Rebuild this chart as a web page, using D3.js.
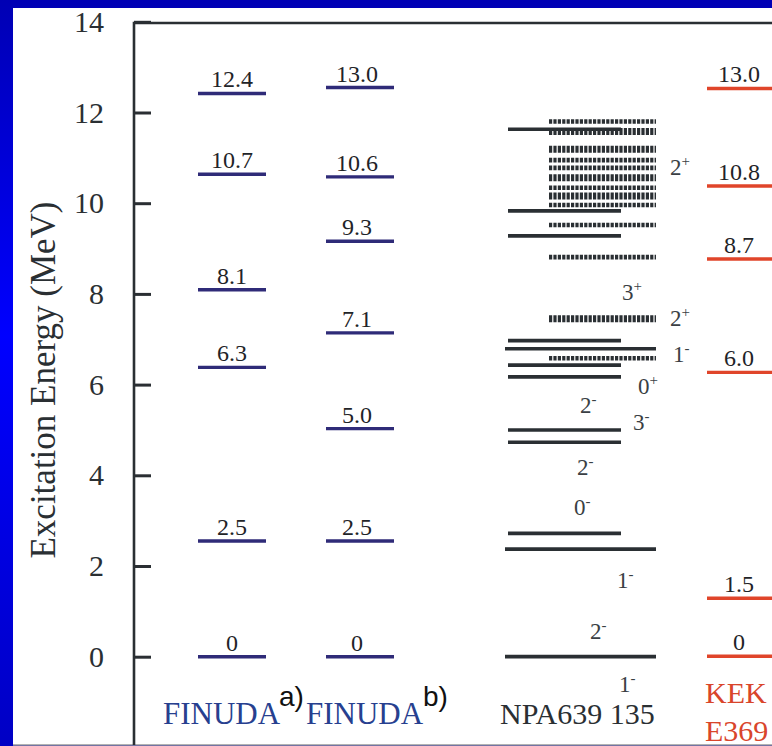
<!DOCTYPE html>
<head>
    <meta charset="utf-8">
    <style>
        body { margin: 0; background: #0000ff; }
        svg { display: block; }
    </style>
    <script src="https://d3js.org/d3.v7.min.js"></script>
</head>
<body>
    <div id="chart"></div>
    <script>

        // y axis ticks (MeV)
        var yTicks = [0, 2, 4, 6, 8, 10, 12, 14];

        // FINUDA a) levels: where each bar sits, and the number written on it
        var finudaAEnergy = [0, 2.55, 6.38, 8.09, 10.64, 12.42];
        var finudaALabels = ["0", "2.5", "6.3", "8.1", "10.7", "12.4"];

        // FINUDA b)
        var finudaBEnergy = [0, 2.55, 5.03, 7.14, 9.16, 10.58, 12.55];
        var finudaBLabels = ["0", "2.5", "5.0", "7.1", "9.3", "10.6", "13.0"];

        // KEK E369
        var kekEnergy = [0.01, 1.29, 6.27, 8.77, 10.38, 12.53];
        var kekLabels = ["0", "1.5", "6.0", "8.7", "10.8", "13.0"];

        // NPA639 135 levels; kind: s = short solid, l = long solid, d = dashed, D = heavy dashed
        var npaEnergy = [11.63, 9.83, 9.28, 6.97, 6.43, 6.17, 5.00, 4.73, 2.72,
                         6.79, 2.37, 0,
                         11.80, 10.95, 10.78, 10.34, 9.96, 9.52, 8.81, 6.58,
                         11.58, 11.19, 10.56, 10.16, 7.45];
        var npaKind = ["s", "s", "s", "s", "s", "s", "s", "s", "s",
                       "l", "l", "l",
                       "d", "d", "d", "d", "d", "d", "d", "d",
                       "D", "D", "D", "D", "D"];

        // spin-parity labels of the NPA column
        var npaSpin   = ["2", "3", "2", "1", "0", "2", "3", "2", "0", "1", "2", "1"];
        var npaParity = ["+", "+", "+", "-", "+", "-", "-", "-", "-", "-", "-", "-"];
        var npaSpinEnergy = [10.62, 7.86, 7.29, 6.50, 5.79, 5.38, 5.00, 4.01, 3.12, 1.51, 0.38, -0.78];

        // layout
        var w = 772,
            h = 746;
        var axisX = 134,
            frameTop = 23;
        var npaSpinX = [670, 622, 670, 673, 638, 580, 633, 577, 574, 617, 590, 619];

        var serif = "'Liberation Serif', 'Times New Roman', Times, serif";
        var sans = "'Liberation Sans', Arial, sans-serif";

        var svg = d3.select("#chart")
                    .append("svg")
                    .attr("width", w)
                    .attr("height", h);

        // slide background
        var grad = svg.append("defs")
                      .append("linearGradient")
                      .attr("id", "bg")
                      .attr("x1", 0).attr("y1", 0)
                      .attr("x2", 0).attr("y2", 1);
        grad.append("stop").attr("offset", "0%").attr("stop-color", "#0000b4");
        grad.append("stop").attr("offset", "45%").attr("stop-color", "#0000ff");
        grad.append("stop").attr("offset", "100%").attr("stop-color", "#0000c4");

        svg.append("rect")
           .attr("width", w)
           .attr("height", h)
           .attr("fill", "url(#bg)");

        svg.append("rect")
           .attr("x", 13)
           .attr("y", 8)
           .attr("width", w - 13)
           .attr("height", 737)
           .attr("fill", "white");

        svg.append("line")
           .attr("x1", 13).attr("x2", w)
           .attr("y1", 745).attr("y2", 745)
           .attr("stroke", "#9a9a9a")
           .attr("stroke-width", 1.5);

        var y = d3.scaleLinear()
                  .domain([0, 14])
                  .range([656.7, 21.8]);

        // frame
        svg.append("path")
           .attr("d", "M" + axisX + ",745V" + frameTop + "H" + w)
           .attr("fill", "none")
           .attr("stroke", "#2a2f33")
           .attr("stroke-width", 2.6);

        var axis = svg.append("g")
                      .attr("transform", "translate(" + axisX + ",0)")
                      .call(d3.axisLeft(y)
                              .tickValues(yTicks)
                              .tickSize(-17)
                              .tickPadding(30)
                              .tickFormat(d3.format("d")));

        axis.attr("font-family", null).attr("font-size", null);
        axis.select(".domain").remove();
        axis.selectAll(".tick line")
            .attr("stroke", "#2a2f33")
            .attr("stroke-width", 3);
        axis.selectAll(".tick text")
            .attr("fill", "#2a2f33")
            .style("font-family", serif)
            .style("font-size", "30px");

        svg.append("text")
           .attr("transform", "translate(55,380) rotate(-90)")
           .attr("text-anchor", "middle")
           .attr("fill", "#2a2f33")
           .style("font-family", serif)
           .style("font-size", "35px")
           .text("Excitation Energy (MeV)");

        // one experimental column: bars with their values written above
        function drawColumn(energy, labels, x1, x2, cx, color) {
            var g = svg.append("g");
            g.selectAll("line")
             .data(energy)
             .enter()
             .append("line")
             .attr("x1", x1)
             .attr("x2", x2)
             .attr("y1", function(d) { return y(d); })
             .attr("y2", function(d) { return y(d); })
             .attr("stroke", color)
             .attr("stroke-width", 3.4);

            g.selectAll("text")
             .data(energy)
             .enter()
             .append("text")
             .attr("x", cx)
             .attr("y", function(d) { return y(d) - 6; })
             .attr("text-anchor", "middle")
             .attr("fill", "#1f2428")
             .style("font-family", serif)
             .style("font-size", "24px")
             .text(function(d, i) { return labels[i]; });
        }

        drawColumn(finudaAEnergy, finudaALabels, 198, 266, 232, "#2f2b78");
        drawColumn(finudaBEnergy, finudaBLabels, 326, 394, 357, "#2f2b78");
        drawColumn(kekEnergy, kekLabels, 707, 790, 739, "#e0452a");

        // NPA column
        var npaX = {
            s: [508, 621],
            l: [505, 656],
            d: [549, 656],
            D: [549, 656]
        };
        var npaWidth = { s: 3.6, l: 3.7, d: 4.6, D: 7 };

        svg.append("g")
           .selectAll("line")
           .data(npaEnergy)
           .enter()
           .append("line")
           .attr("x1", function(d, i) { return npaX[npaKind[i]][0]; })
           .attr("x2", function(d, i) { return npaX[npaKind[i]][1]; })
           .attr("y1", function(d) { return y(d); })
           .attr("y2", function(d) { return y(d); })
           .attr("stroke", "#2a2f33")
           .attr("stroke-width", function(d, i) { return npaWidth[npaKind[i]]; })
           .attr("stroke-dasharray", function(d, i) {
               return (npaKind[i] === "d" || npaKind[i] === "D") ? "3.2,1.2" : null;
           });

        var spin = svg.append("g")
                      .selectAll("text")
                      .data(npaSpinEnergy)
                      .enter()
                      .append("text")
                      .attr("x", function(d, i) { return npaSpinX[i]; })
                      .attr("y", function(d) { return y(d); })
                      .attr("fill", "#3a3f44")
                      .style("font-family", serif)
                      .style("font-size", "23px");

        spin.append("tspan")
            .text(function(d, i) { return npaSpin[i]; });
        spin.append("tspan")
            .attr("dy", -9)
            .style("font-size", "15px")
            .text(function(d, i) { return npaParity[i]; });

        // column titles
        var titleY = 724;
        svg.append("text")
           .attr("x", 163).attr("y", titleY)
           .attr("fill", "#27408f")
           .style("font-family", serif)
           .style("font-size", "31px")
           .text("FINUDA");
        svg.append("text")
           .attr("x", 306).attr("y", titleY)
           .attr("fill", "#27408f")
           .style("font-family", serif)
           .style("font-size", "31px")
           .text("FINUDA");

        svg.append("text")
           .attr("x", 279).attr("y", 706)
           .attr("fill", "#111")
           .style("font-family", sans)
           .style("font-size", "28px")
           .text("a)");
        svg.append("text")
           .attr("x", 423).attr("y", 706)
           .attr("fill", "#111")
           .style("font-family", sans)
           .style("font-size", "28px")
           .text("b)");

        svg.append("text")
           .attr("x", 500).attr("y", titleY)
           .attr("fill", "#2a2f33")
           .style("font-family", serif)
           .style("font-size", "30px")
           .text("NPA639 135");

        svg.append("text")
           .attr("x", 705).attr("y", 703)
           .attr("fill", "#d9452b")
           .style("font-family", serif)
           .style("font-size", "30px")
           .text("KEK");
        svg.append("text")
           .attr("x", 705).attr("y", 741)
           .attr("fill", "#d9452b")
           .style("font-family", serif)
           .style("font-size", "30px")
           .text("E369");

    </script>
</body>
